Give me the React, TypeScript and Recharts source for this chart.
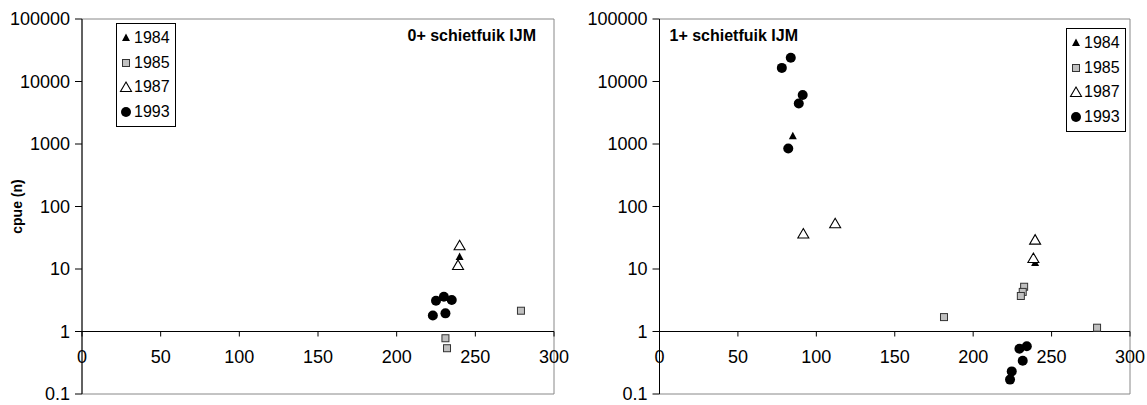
import React from "react";
import {
  ScatterChart,
  Scatter,
  XAxis,
  YAxis,
  ReferenceArea,
  ReferenceLine,
  ReferenceDot,
  Legend,
} from "recharts";

const FONT = '"Liberation Sans", Arial, sans-serif';

const years = ["1984", "1985", "1987", "1993"];
const xTicks = [0, 50, 100, 150, 200, 250, 300];
const yTicks = [0.1, 1, 10, 100, 1000, 10000, 100000];

// 0+ schietfuik IJM
const age0_1984 = [{ x: 240, y: 15.5 }];
const age0_1985 = [
  { x: 279, y: 2.15 },
  { x: 231, y: 0.78 },
  { x: 232, y: 0.54 },
];
const age0_1987 = [
  { x: 240, y: 24 },
  { x: 239, y: 11.6 },
];
const age0_1993 = [
  { x: 225, y: 3.1 },
  { x: 230, y: 3.6 },
  { x: 235, y: 3.2 },
  { x: 223, y: 1.8 },
  { x: 231, y: 1.95 },
];

// 1+ schietfuik IJM
const age1_1984 = [
  { x: 85, y: 1330 },
  { x: 239.5, y: 12.5 },
];
const age1_1985 = [
  { x: 232.5, y: 5.2 },
  { x: 231.6, y: 4.3 },
  { x: 230.4, y: 3.7 },
  { x: 181.4, y: 1.7 },
  { x: 279, y: 1.15 },
];
const age1_1987 = [
  { x: 91.7, y: 37 },
  { x: 112, y: 54 },
  { x: 239.5, y: 29.5 },
  { x: 238.4, y: 15 },
];
const age1_1993 = [
  { x: 78, y: 16500 },
  { x: 83.7, y: 24000 },
  { x: 91.3, y: 6100 },
  { x: 88.8, y: 4450 },
  { x: 82.1, y: 850 },
  { x: 234.2, y: 0.58 },
  { x: 229.5, y: 0.53 },
  { x: 231.6, y: 0.34 },
  { x: 224.6, y: 0.23 },
  { x: 223.5, y: 0.17 },
];

function marker(year: string, cx: number, cy: number) {
  switch (year) {
    case "1984":
      return <path d={`M${cx},${cy - 4.5}L${cx + 4},${cy + 3}L${cx - 4},${cy + 3}Z`} fill="#000" />;
    case "1985":
      return (
        <rect x={cx - 3.5} y={cy - 3.5} width={7} height={7} fill="#c0c0c0" stroke="#333" strokeWidth={1} />
      );
    case "1987":
      return (
        <path
          d={`M${cx},${cy - 5}L${cx + 5.5},${cy + 4.5}L${cx - 5.5},${cy + 4.5}Z`}
          fill="#fff"
          stroke="#000"
          strokeWidth={1.1}
        />
      );
    default:
      return <circle cx={cx} cy={cy} r={5} fill="#000" />;
  }
}

const shapeFor = (year: string) => (p: any) => marker(year, p.cx, p.cy);

function LegendBox(props: any) {
  const items = props.payload || [];
  return (
    <div
      style={{
        border: "1px solid #000",
        background: "#fff",
        width: 58,
        padding: "2px 0",
        fontFamily: FONT,
        fontSize: 16,
        lineHeight: "18px",
        color: "#000",
      }}
    >
      {items.map((it: any) => (
        <div key={it.value} style={{ display: "flex", alignItems: "center", height: 24.5 }}>
          <svg width={15} height={14} style={{ marginLeft: 1 }}>
            {marker(String(it.value), 8, 7)}
          </svg>
          <span style={{ marginLeft: 1 }}>{it.value}</span>
        </div>
      ))}
    </div>
  );
}

function XTick({ cx, cy, value }: any) {
  return (
    <g>
      <line x1={cx} x2={cx} y1={cy} y2={cy + 5} stroke="#000" />
      <text x={cx} y={cy + 31} textAnchor="middle" fontFamily={FONT} fontSize={18} fill="#000">
        {value}
      </text>
    </g>
  );
}

const titleLabel = (title: string, right: boolean) => (p: any) => {
  const vb = p.viewBox || {};
  return (
    <text
      x={right ? vb.x + vb.width - 18 : vb.x + 10}
      y={vb.y + 22}
      textAnchor={right ? "end" : "start"}
      fontFamily={FONT}
      fontSize={16}
      fontWeight="bold"
      fill="#000"
    >
      {title}
    </text>
  );
};

interface PanelProps {
  title: string;
  series: { x: number; y: number }[][];
  marginLeft: number;
  marginRight: number;
  titleRight: boolean;
  legendLeft: number;
  legendTop: number;
  yLabel?: string;
}

function Panel(props: PanelProps) {
  const { title, series, marginLeft, marginRight, titleRight, legendLeft, legendTop, yLabel } = props;
  return (
    <ScatterChart
      width={573}
      height={405}
      margin={{ top: 19, right: marginRight, bottom: 11, left: marginLeft }}
    >
      <XAxis type="number" dataKey="x" domain={[0, 300]} ticks={xTicks} hide />
      <YAxis
        type="number"
        dataKey="y"
        scale="log"
        domain={[0.1, 100000]}
        ticks={yTicks}
        interval={0}
        allowDataOverflow
        width={70}
        tickSize={7}
        tickMargin={5}
        axisLine={{ stroke: "#000" }}
        tickLine={{ stroke: "#000" }}
        tick={{ fill: "#000", fontSize: 18, fontFamily: FONT }}
        tickFormatter={(v: number) => String(v)}
        label={
          yLabel
            ? {
                value: yLabel,
                angle: -90,
                position: "insideLeft",
                offset: 5,
                fill: "#000",
                style: { textAnchor: "middle", fontWeight: "bold", fontSize: 14, fontFamily: FONT },
              }
            : undefined
        }
      />
      <ReferenceArea
        x1={0}
        x2={300}
        y1={0.1}
        y2={100000}
        fill="none"
        stroke="#888"
        strokeWidth={1}
        label={titleLabel(title, titleRight)}
      />
      <ReferenceLine y={1} stroke="#000" strokeWidth={1} />
      {xTicks.map((t) => (
        <ReferenceDot
          key={t}
          x={t}
          y={1}
          r={0}
          shape={(p: any) => <XTick cx={p.cx} cy={p.cy} value={t} />}
        />
      ))}
      {years.map((yr, i) => (
        <Scatter
          key={yr}
          name={yr}
          data={series[i]}
          fill="#000"
          shape={shapeFor(yr)}
          isAnimationActive={false}
        />
      ))}
      <Legend
        layout="vertical"
        align="center"
        verticalAlign="middle"
        content={<LegendBox />}
        wrapperStyle={{ position: "absolute", left: legendLeft, top: legendTop, width: "auto" }}
      />
    </ScatterChart>
  );
}

export default function App() {
  return (
    <div
      style={{
        position: "absolute",
        left: 0,
        top: 0,
        width: 1147,
        height: 405,
        background: "#fff",
        display: "flex",
      }}
    >
      <Panel
        title="0+ schietfuik IJM"
        series={[age0_1984, age0_1985, age0_1987, age0_1993]}
        marginLeft={12}
        marginRight={19}
        titleRight
        legendLeft={116}
        legendTop={23}
        yLabel="cpue (n)"
      />
      <Panel
        title="1+ schietfuik IJM"
        series={[age1_1984, age1_1985, age1_1987, age1_1993]}
        marginLeft={16.5}
        marginRight={16}
        titleRight={false}
        legendLeft={493}
        legendTop={28}
      />
    </div>
  );
}
